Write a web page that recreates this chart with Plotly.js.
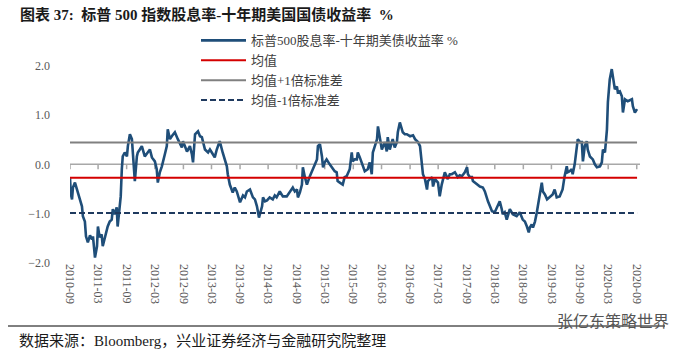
<!DOCTYPE html>
<html>
<head>
<meta charset="utf-8">
<script src="https://cdn.plot.ly/plotly-3.0.1.min.js"></script>
<style>html,body{margin:0;padding:0;background:#fff;}#chart{width:679px;height:351px;}</style>
</head>
<body>
<div id="chart"></div>
<script>
// ---- data ----
const dates = [
"2010-09-01","2010-09-07","2010-09-14","2010-09-20","2010-10-03","2010-10-15","2010-10-22","2010-11-04","2010-11-17","2010-11-23",
"2010-12-06","2010-12-13","2010-12-25","2011-01-08","2011-01-21","2011-01-27","2011-02-09","2011-02-22","2011-02-28","2011-03-11",
"2011-03-24","2011-03-31","2011-04-13","2011-04-26","2011-05-02","2011-05-15","2011-05-28","2011-06-04","2011-06-17","2011-06-29",
"2011-07-05","2011-07-12","2011-07-25","2011-08-01","2011-08-07","2011-08-20","2011-09-03","2011-09-09","2011-09-22","2011-10-05",
"2011-10-11","2011-10-24","2011-11-06","2011-11-12","2011-11-25","2011-12-08","2011-12-27","2012-01-16","2012-01-29","2012-02-11",
"2012-03-01","2012-03-13","2012-03-20","2012-04-02","2012-04-15","2012-05-04","2012-05-17","2012-05-23","2012-06-06","2012-06-18",
"2012-07-08","2012-07-27","2012-08-10","2012-08-22","2012-08-29","2012-09-11","2012-09-24","2012-10-13","2012-10-26","2012-11-02",
"2012-11-15","2012-12-04","2012-12-17","2012-12-29","2013-01-18","2013-02-07","2013-02-19","2013-03-03","2013-03-22","2013-04-04",
"2013-04-23","2013-05-12","2013-05-25","2013-06-08","2013-06-14","2013-06-27","2013-07-16","2013-07-29","2013-08-11","2013-09-01",
"2013-09-20","2013-10-03","2013-10-15","2013-11-04","2013-11-23","2013-12-06","2013-12-19","2014-01-01","2014-01-21","2014-01-27",
"2014-02-09","2014-02-22","2014-03-11","2014-03-31","2014-04-13","2014-04-25","2014-05-15","2014-06-04","2014-06-29","2014-07-18",
"2014-08-07","2014-08-20","2014-09-03","2014-09-09","2014-09-22","2014-10-05","2014-10-11","2014-10-24","2014-11-06","2014-11-25",
"2014-12-14","2014-12-27","2015-01-10","2015-01-16","2015-01-29","2015-02-11","2015-02-18","2015-03-01","2015-03-13","2015-04-02",
"2015-04-21","2015-05-04","2015-05-17","2015-05-23","2015-06-06","2015-06-25","2015-07-07","2015-07-20","2015-08-09","2015-08-22",
"2015-08-28","2015-09-11","2015-09-24","2015-09-30","2015-10-13","2015-10-26","2015-11-14","2015-12-03","2015-12-16","2015-12-29",
"2016-01-05","2016-01-18","2016-02-01","2016-02-07","2016-02-20","2016-03-03","2016-03-22","2016-04-04","2016-04-10","2016-04-23",
"2016-05-12","2016-05-25","2016-06-08","2016-06-14","2016-06-27","2016-07-10","2016-07-16","2016-07-29","2016-08-11","2016-09-01",
"2016-09-20","2016-10-03","2016-10-22","2016-11-04","2016-11-17","2016-11-23","2016-12-06","2016-12-19","2016-12-25","2017-01-08",
"2017-01-21","2017-01-27","2017-02-09","2017-02-28","2017-03-11","2017-03-24","2017-04-13","2017-05-02","2017-05-15","2017-05-28",
"2017-06-17","2017-07-05","2017-07-18","2017-08-01","2017-08-20","2017-09-03","2017-09-09","2017-09-22","2017-10-05","2017-10-11",
"2017-10-24","2017-11-06","2017-11-25","2017-12-14","2017-12-27","2018-01-16","2018-01-29","2018-02-11","2018-03-01","2018-03-20",
"2018-04-02","2018-04-15","2018-04-21","2018-05-04","2018-05-17","2018-06-06","2018-06-25","2018-07-20","2018-08-09","2018-08-28",
"2018-09-11","2018-09-24","2018-10-06","2018-10-13","2018-10-25","2018-11-02","2018-11-15","2018-11-27","2018-12-03","2018-12-16",
"2018-12-29","2019-01-05","2019-01-18","2019-02-01","2019-02-20","2019-03-09","2019-03-22","2019-04-04","2019-04-23","2019-05-12",
"2019-05-25","2019-06-08","2019-06-14","2019-06-27","2019-07-10","2019-07-16","2019-07-29","2019-08-11","2019-08-18","2019-09-01",
"2019-09-13","2019-09-20","2019-10-02","2019-10-15","2019-10-21","2019-11-04","2019-11-23","2019-12-06","2019-12-19","2020-01-08",
"2020-01-20","2020-01-27","2020-02-09","2020-02-15","2020-02-22","2020-02-28","2020-03-11","2020-03-24","2020-03-31","2020-04-13",
"2020-04-26","2020-05-02","2020-05-15","2020-05-28","2020-06-04","2020-06-17","2020-07-05","2020-07-18","2020-08-01","2020-08-07",
"2020-08-20","2020-09-03"
];
const spreadValues = [
-0.28,-0.61,-0.71,-0.47,-0.37,-0.51,-0.55,-0.71,-0.85,-1.05,
-1.16,-1.46,-1.58,-1.44,-1.52,-1.46,-1.89,-1.66,-1.26,-1.48,
-1.42,-1.66,-1.48,-1.32,-1.26,-1.16,-1.12,-0.91,-1.01,-0.87,
-1.26,-1.05,-0.65,-0.10,0.16,0.24,0.16,0.37,0.61,0.51,
0.24,-0.34,0.16,0.24,0.30,0.37,0.16,0.24,0.30,0.14,
0.06,-0.10,-0.37,-0.16,-0.04,0.20,0.37,0.71,0.51,0.57,
0.65,0.51,0.41,0.34,0.47,0.34,0.26,0.37,0.20,0.04,
0.61,0.67,0.57,0.55,0.30,0.24,0.30,0.24,0.14,0.30,
0.47,0.24,0.10,-0.04,-0.20,-0.41,-0.57,-0.47,-0.55,-0.77,
-0.63,-0.67,-0.55,-0.51,-0.67,-0.71,-0.85,-1.08,-0.85,-0.67,
-0.75,-0.73,-0.67,-0.71,-0.63,-0.67,-0.55,-0.65,-0.65,-0.57,
-0.47,-0.55,-0.51,-0.67,-0.57,-0.41,-0.06,-0.26,-0.41,-0.24,
-0.10,-0.04,0.10,0.37,0.41,0.16,-0.06,0.04,0.10,0.00,
-0.10,-0.14,-0.16,-0.34,-0.37,-0.41,-0.26,-0.24,-0.10,0.24,
0.06,0.10,0.10,0.24,0.14,0.04,-0.14,-0.10,0.04,-0.20,
0.24,0.37,0.51,0.77,0.51,0.30,0.45,0.26,0.55,0.30,
0.51,0.34,0.45,0.65,0.85,0.71,0.65,0.61,0.61,0.57,
0.59,0.51,0.45,0.37,-0.04,-0.20,-0.30,-0.51,-0.34,-0.30,
-0.26,-0.45,-0.30,-0.37,-0.65,-0.41,-0.16,-0.30,-0.20,-0.20,
-0.16,-0.26,-0.22,-0.24,-0.16,-0.06,-0.20,-0.26,-0.26,-0.34,
-0.37,-0.41,-0.45,-0.47,-0.55,-0.75,-0.85,-0.95,-0.97,-0.85,
-0.75,-0.91,-1.01,-0.97,-1.12,-0.91,-1.01,-1.05,-0.97,-1.12,
-1.16,-1.26,-1.38,-1.28,-1.22,-1.28,-1.16,-0.97,-0.85,-0.57,
-0.37,-0.55,-0.61,-0.71,-0.65,-0.61,-0.51,-0.67,-0.65,-0.51,
-0.24,-0.04,-0.16,-0.14,-0.10,-0.20,0.00,0.37,0.51,0.45,
0.45,0.06,0.37,0.47,0.30,0.16,0.10,0.00,-0.06,-0.04,
0.04,0.30,0.24,0.45,0.71,1.26,1.72,1.93,1.80,1.52,
1.58,1.46,1.48,1.38,1.05,1.32,1.28,1.30,1.32,1.18,
1.05,1.12
];
const meanValue = -0.27;   // 均值
const stdValue = 0.715;    // 标准差
const seriesNames = ["标普500股息率-十年期美债收益率 %", "均值", "均值+1倍标准差", "均值-1倍标准差"];
const tickDates = ["2010-09-01","2011-03-01","2011-09-01","2012-03-01","2012-09-01","2013-03-01","2013-09-01",
  "2014-03-01","2014-09-01","2015-03-01","2015-09-01","2016-03-01","2016-09-01","2017-03-01","2017-09-01",
  "2018-03-01","2018-09-01","2019-03-01","2019-09-01","2020-03-01","2020-09-01"];
const titleText = "图表 37:  标普 500 指数股息率-十年期美国国债收益率  %";
const sourceText = "数据来源：Bloomberg，兴业证券经济与金融研究院整理";
const watermarkText = "张亿东策略世界";
const yRange = [-2, 2.5];
const xRange = ["2010-09-01", "2020-09-22"];

// ---- chart ----
const serif = "Liberation Serif, 'Noto Sans CJK SC', serif";
const first = dates[0], last = dates[dates.length - 1];
const axisColor = "#a8a8a8";
const tickLen = 5 * (yRange[1] - yRange[0]) / 222;
// zero axis line with hanging tick marks, built as one path through the tick dates
const axisX = [xRange[0]], axisY = [0];
tickDates.forEach(d => { axisX.push(d, d, d); axisY.push(0, -tickLen, 0); });
axisX.push(xRange[1]); axisY.push(0);
const traces = [
  {x: axisX, y: axisY, type: "scatter", mode: "lines", name: "axis", showlegend: false,
   line: {color: axisColor, width: 1.5}},
  {x: dates, y: spreadValues, type: "scatter", mode: "lines", name: seriesNames[0],
   line: {color: "#1F4E79", width: 2.6}},
  {x: [first, last], y: [meanValue, meanValue], type: "scatter", mode: "lines", name: seriesNames[1],
   line: {color: "#D40000", width: 2}},
  {x: [first, last], y: [meanValue + stdValue, meanValue + stdValue], type: "scatter", mode: "lines", name: seriesNames[2],
   line: {color: "#808080", width: 2}},
  {x: [first, last], y: [meanValue - stdValue, meanValue - stdValue], type: "scatter", mode: "lines", name: seriesNames[3],
   line: {color: "#1F3A5F", width: 2, dash: "6px,3px"}}
];
const layout = {
  width: 679, height: 351,
  margin: {l: 70, r: 39, t: 41, b: 88},
  paper_bgcolor: "#fff", plot_bgcolor: "#fff",
  showlegend: true,
  title: {text: "<b>" + titleText + "</b>", x: 20/679, xanchor: "left", xref: "container", y: 1 - 15/351, yanchor: "middle",
          font: {family: serif, size: 15, color: "#1a1a1a"}},
  xaxis: {type: "date", range: xRange, tickvals: tickDates, tickformat: "%Y-%m",
          tickangle: 90, showgrid: false, zeroline: false, showline: false, ticks: "",
          tickfont: {family: serif, size: 12, color: "#595959"}},
  yaxis: {range: yRange, dtick: 1, tick0: 0, tickformat: ".1f", showgrid: false,
          zeroline: true, zerolinecolor: axisColor, zerolinewidth: 1.5, showline: false,
          ticks: "", ticklabelstandoff: 19, tickfont: {family: serif, size: 12, color: "#595959"}},
  legend: {x: (196 - 70) / 570, y: 1.07, xanchor: "left", yanchor: "top", bgcolor: "rgba(0,0,0,0)",
           font: {family: serif, size: 13, color: "#404040"}, itemwidth: 45, tracegroupgap: 0},
  shapes: [
    {type: "line", xref: "paper", yref: "paper", x0: -62/570, x1: 595/570, y0: -63/222, y1: -63/222,
     line: {color: "#000", width: 1}}
  ],
  annotations: [
    {text: sourceText, xref: "paper", yref: "paper", x: -53/570, y: -77/222, xanchor: "left", yanchor: "middle",
     showarrow: false, font: {family: serif, size: 15, color: "#1a1a1a"}},
    {text: watermarkText, xref: "paper", yref: "paper", x: 555/570 - 70/570, y: -57/222, xanchor: "left", yanchor: "middle",
     showarrow: false, font: {family: "'Noto Sans CJK SC', sans-serif", size: 16, color: "#555"}}
  ]
};
Plotly.newPlot("chart", traces, layout, {staticPlot: true, displayModeBar: false});
</script>
</body>
</html>
